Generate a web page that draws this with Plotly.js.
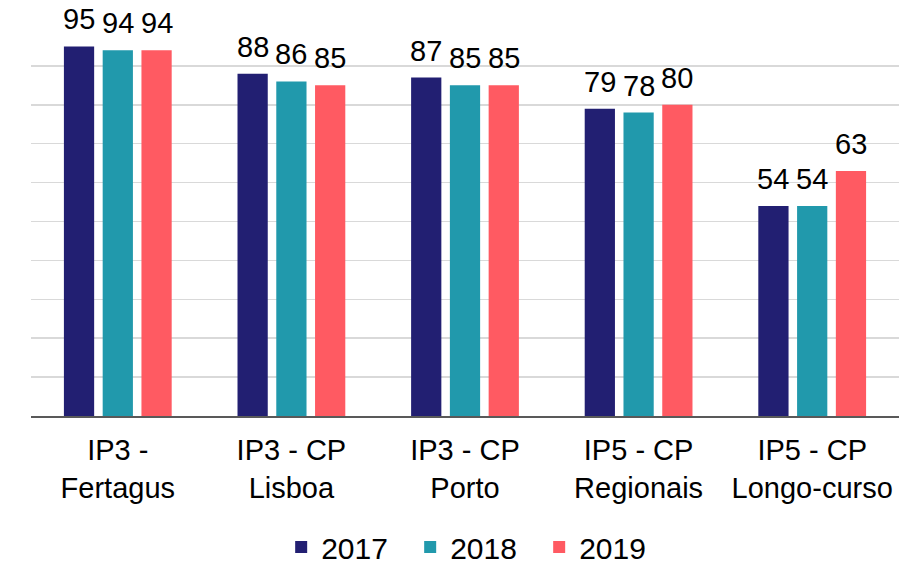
<!DOCTYPE html>
<html>
<head>
<meta charset="utf-8">
<script src="https://cdn.plot.ly/plotly-3.0.1.min.js"></script>
<style>
  html, body { margin: 0; padding: 0; background: #fff; }
  #chart { width: 899px; height: 573px; }
</style>
</head>
<body>
<div id="chart"></div>
<script>
var categories = [
    'IP3 -<br>Fertagus',
    'IP3 - CP<br>Lisboa',
    'IP3 - CP<br>Porto',
    'IP5 - CP<br>Regionais',
    'IP5 - CP<br>Longo-curso'
];

var years = ['2017', '2018', '2019'];
var values2017 = [95, 88, 87, 79, 54];
var values2018 = [94, 86, 85, 78, 54];
var values2019 = [94, 85, 85, 80, 63];

var colors = ['#221F72', '#2199AC', '#FF5A62'];
var series = [values2017, values2018, values2019];

var margin = { l: 31, r: 0, t: 27, b: 157 };
var bargap = 0.33;
// width of one bar slot in px, used to centre each value label on its bar
var slot = (899 - margin.l - margin.r) / categories.length * (1 - bargap) / series.length;

var data = series.map(function (vals, i) {
    return {
        x: categories,
        y: vals,
        type: 'bar',
        name: years[i],
        hoverinfo: 'none',
        marker: { color: colors[i] }
    };
});

// value labels sit a bit higher than plotly's 'outside' text
var annotations = [];
series.forEach(function (vals, i) {
    vals.forEach(function (v, j) {
        annotations.push({
            x: categories[j],
            y: v,
            xref: 'x',
            yref: 'y',
            text: String(v),
            showarrow: false,
            yanchor: 'bottom',
            xshift: (i - 1) * slot,
            yshift: 9,
            font: { size: 29, color: '#000' }
        });
    });
});

var layout = {
    width: 899,
    height: 573,
    font: { family: 'Liberation Sans, Arial, sans-serif', size: 29, color: '#000' },
    margin: margin,
    paper_bgcolor: '#fff',
    plot_bgcolor: '#fff',
    barmode: 'group',
    bargap: bargap,
    bargroupgap: 0.22,
    xaxis: {
        automargin: false,
        showline: true,
        linecolor: '#595959',
        linewidth: 2,
        ticks: '',
        showgrid: false,
        ticklabelstandoff: 7,
        tickfont: { size: 29 }
    },
    yaxis: {
        automargin: false,
        range: [0, 100],
        dtick: 10,
        showticklabels: false,
        showgrid: true,
        gridcolor: '#D9D9D9',
        gridwidth: 1.5,
        zeroline: false
    },
    annotations: annotations,
    showlegend: true,
    legend: {
        orientation: 'h',
        xref: 'container',
        yref: 'container',
        x: 0.528,
        xanchor: 'center',
        y: 0,
        yanchor: 'bottom',
        font: { size: 30 },
        entrywidth: 84
    }
};

Plotly.newPlot('chart', data, layout, { displayModeBar: false, staticPlot: true });
</script>
</body>
</html>
